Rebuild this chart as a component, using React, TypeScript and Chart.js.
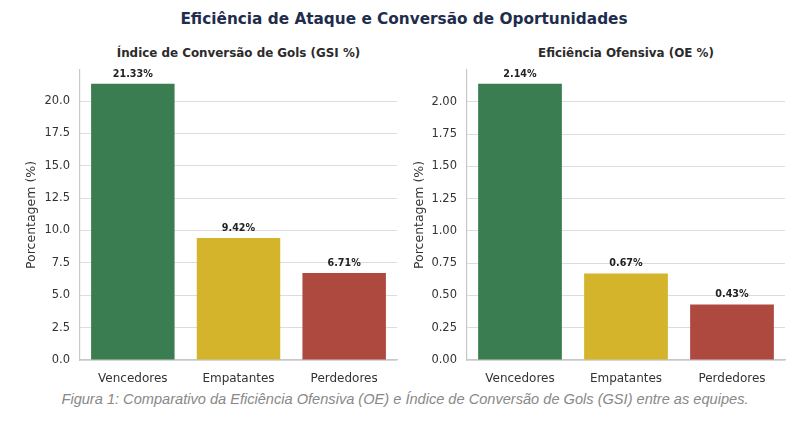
import { useEffect, useRef } from 'react';
import { Chart, registerables } from 'chart.js';

Chart.register(...registerables);

const categories = ['Vencedores', 'Empatantes', 'Perdedores'];
const gsiValues = [21.33, 9.42, 6.71];
const oeValues = [2.14, 0.67, 0.43];
const barColors = ['#3a7d50', '#d4b42a', '#ad493f'];

const FONT = '"DejaVu Sans", sans-serif';

const valueLabels = {
  id: 'valueLabels',
  afterDatasetsDraw(chart: Chart) {
    const { ctx } = chart;
    const meta = chart.getDatasetMeta(0);
    const data = chart.data.datasets[0].data as number[];
    ctx.save();
    ctx.font = `bold 9.6px ${FONT}`;
    ctx.fillStyle = '#222222';
    ctx.textAlign = 'center';
    ctx.textBaseline = 'bottom';
    meta.data.forEach((bar: any, i: number) => {
      ctx.fillText(`${data[i].toFixed(2)}%`, bar.x, bar.y - 5);
    });
    ctx.restore();
  },
};

function makeChart(
  canvas: HTMLCanvasElement,
  values: number[],
  step: number,
  digits: number,
  padLeft: number,
  padRight: number,
  yWidth: number,
) {
  return new Chart(canvas, {
    type: 'bar',
    data: {
      labels: categories,
      datasets: [
        {
          data: values,
          backgroundColor: barColors,
          barPercentage: 0.79,
          categoryPercentage: 1,
        },
      ],
    },
    options: {
      responsive: false,
      animation: false,
      layout: { padding: { left: padLeft, right: padRight, top: 30, bottom: 0 } },
      plugins: { legend: { display: false }, tooltip: { enabled: false }, title: { display: false } },
      scales: {
        x: {
          grid: { display: false },
          border: { color: '#c8c8c8', width: 1.2 },
          ticks: { color: '#333333', font: { family: FONT, size: 12 }, padding: 4 },
          afterFit: (s: any) => {
            s.height = 30;
          },
        },
        y: {
          min: 0,
          max: Math.max(...values) * 1.05,
          grid: { color: '#dcdcdc', drawTicks: false, lineWidth: 1 },
          border: { color: '#c8c8c8', width: 1.2 },
          ticks: {
            stepSize: step,
            includeBounds: false,
            color: '#333333',
            font: { family: FONT, size: 11.5 },
            padding: 10,
            callback: (v: any) => Number(v).toFixed(digits),
          },
          title: {
            display: true,
            text: 'Porcentagem (%)',
            color: '#333333',
            font: { family: FONT, size: 12.5 },
            padding: { top: 4, bottom: 0 },
          },
          afterFit: (s: any) => {
            s.width = yWidth;
          },
        },
      },
    },
    plugins: [valueLabels],
  });
}

export default function App() {
  const leftRef = useRef<HTMLCanvasElement>(null);
  const rightRef = useRef<HTMLCanvasElement>(null);

  useEffect(() => {
    if (!leftRef.current || !rightRef.current) return;
    const left = makeChart(leftRef.current, gsiValues, 2.5, 1, 20, 3, 60);
    const right = makeChart(rightRef.current, oeValues, 0.25, 2, 8, 14, 59);
    return () => {
      left.destroy();
      right.destroy();
    };
  }, []);

  const subTitle = {
    position: 'absolute' as const,
    top: 46,
    fontFamily: FONT,
    fontWeight: 'bold' as const,
    fontSize: 11.9,
    color: '#2b2b2b',
    textAlign: 'center' as const,
    whiteSpace: 'nowrap' as const,
  };

  return (
    <div style={{ position: 'fixed', left: 0, top: 0, width: 799, height: 423, background: '#ffffff', overflow: 'hidden' }}>
      <div
        style={{
          position: 'absolute',
          top: 10,
          left: 0,
          width: 808,
          textAlign: 'center',
          fontFamily: FONT,
          fontWeight: 'bold',
          fontSize: 15.3,
          color: '#1f2d4d',
          whiteSpace: 'nowrap',
        }}
      >
        Eficiência de Ataque e Conversão de Oportunidades
      </div>
      <div style={{ ...subTitle, left: 80, width: 317 }}>Índice de Conversão de Gols (GSI %)</div>
      <div style={{ ...subTitle, left: 467, width: 318 }}>Eficiência Ofensiva (OE %)</div>
      <canvas ref={leftRef} width={400} height={350} style={{ position: 'absolute', left: 0, top: 40 }} />
      <canvas ref={rightRef} width={399} height={350} style={{ position: 'absolute', left: 400, top: 40 }} />
      <div
        style={{
          position: 'absolute',
          top: 391,
          left: 0,
          width: 810,
          textAlign: 'center',
          fontFamily: '"Liberation Sans", Arial, sans-serif',
          fontStyle: 'italic',
          fontSize: 14.6,
          color: '#888888',
          whiteSpace: 'nowrap',
        }}
      >
        Figura 1: Comparativo da Eficiência Ofensiva (OE) e Índice de Conversão de Gols (GSI) entre as equipes.
      </div>
    </div>
  );
}
